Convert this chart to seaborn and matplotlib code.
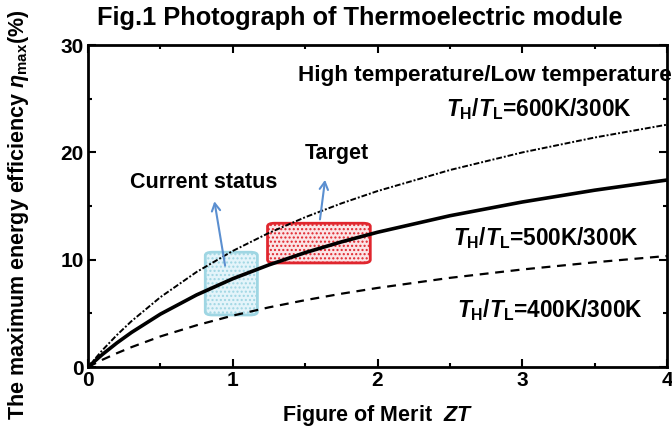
import matplotlib
matplotlib.use("Agg")
import matplotlib.pyplot as plt
import seaborn as sns
import pandas as pd
from matplotlib.patches import FancyBboxPatch

# ---- data ----
zt = [0, 0.1, 0.2, 0.3, 0.5, 0.75, 1.0, 1.25, 1.5, 1.75, 2.0, 2.5, 3.0, 3.5, 4.0]
eff_600 = [0, 1.58, 2.99, 4.27, 6.51, 8.86, 10.82, 12.5, 13.96, 15.25, 16.40, 18.36, 20.0, 21.39, 22.59]
eff_500 = [0, 1.18, 2.25, 3.22, 4.93, 6.72, 8.23, 9.52, 10.66, 11.66, 12.56, 14.10, 15.38, 16.48, 17.43]
eff_400 = [0, 0.68, 1.29, 1.85, 2.85, 3.89, 4.79, 5.56, 6.23, 6.83, 7.37, 8.31, 9.09, 9.76, 10.35]
series_names = ["600K/300K", "500K/300K", "400K/300K"]

x_ticks = [0, 1, 2, 3, 4]
y_ticks = [0, 10, 20, 30]

title = "Fig.1 Photograph of Thermoelectric module"
x_label = r"Figure of Merit  $ZT$"
y_label = r"The maximum energy efficiency $\eta_{\rm max}$(%)"

# ---- style ----
sns.set_theme(style="ticks")
plt.rcParams["font.family"] = ["Liberation Sans", "DejaVu Sans"]
plt.rcParams["font.weight"] = "bold"
plt.rcParams["text.color"] = "black"
plt.rcParams["axes.labelcolor"] = "black"
plt.rcParams["axes.labelweight"] = "bold"
plt.rcParams["mathtext.fontset"] = "custom"
plt.rcParams["mathtext.rm"] = "Liberation Sans:bold"
plt.rcParams["mathtext.it"] = "Liberation Sans:italic:bold"
plt.rcParams["mathtext.bf"] = "Liberation Sans:bold"
plt.rcParams["mathtext.default"] = "it"

fig = plt.figure(figsize=(6.72, 4.30), dpi=100)
ax = fig.add_axes([0.131, 0.1465, 0.8616, 0.7485])

df = pd.DataFrame({
    "ZT": zt * 3,
    "eff": eff_600 + eff_500 + eff_400,
    "case": [series_names[0]] * len(zt) + [series_names[1]] * len(zt) + [series_names[2]] * len(zt),
})

styles = {
    "600K/300K": dict(lw=1.4, ls=(0, (3, 1, 1, 1))),
    "500K/300K": dict(lw=2.6, ls="-"),
    "400K/300K": dict(lw=1.6, ls=(0, (4, 3))),
}
for name in series_names:
    sub = df[df["case"] == name]
    sns.lineplot(data=sub, x="ZT", y="eff", ax=ax, color="black",
                 linewidth=styles[name]["lw"], linestyle=styles[name]["ls"],
                 legend=False, zorder=3)

ax.set_xlim(0, 4)
ax.set_ylim(0, 30)
ax.set_xticks(x_ticks)
ax.set_yticks(y_ticks)
ax.set_xticks([0.5, 1.5, 2.5, 3.5], minor=True)
ax.set_yticks([5, 15, 25], minor=True)
ax.tick_params(which="both", direction="in", top=True, right=True, width=1.5,
               colors="black", labelcolor="black")
ax.tick_params(which="major", length=6, labelsize=15, pad=3)
ax.tick_params(which="minor", length=3)
for lab in ax.get_xticklabels() + ax.get_yticklabels():
    lab.set_fontweight("bold")
for s in ax.spines.values():
    s.set_linewidth(2)
    s.set_color("black")

ax.set_xlabel(x_label, fontsize=15.5, labelpad=9)
ax.set_ylabel("")
fig.text(0.028, 0.50, y_label, rotation=90, ha="center", va="center", fontsize=15.5,
         fontweight="bold")
fig.text(0.535, 0.958, title, ha="center", va="center", fontsize=18.3, fontweight="bold")

# boxes
cyan = FancyBboxPatch((0.81, 4.85), 0.36, 5.85, boxstyle="round,pad=0,rounding_size=0.05",
                      mutation_aspect=6, facecolor="#e4f4fa", edgecolor="#9fd6e3",
                      linewidth=2, hatch="....", zorder=2)
if hasattr(cyan, "set_hatch_color"):
    cyan.set_hatch_color("#9ccde0")
ax.add_patch(cyan)
red = FancyBboxPatch((1.24, 9.7), 0.71, 3.7, boxstyle="round,pad=0,rounding_size=0.05",
                     mutation_aspect=6, facecolor="#fbe4e6", edgecolor="#e0262e",
                     linewidth=2, hatch="....", zorder=2)
if hasattr(red, "set_hatch_color"):
    red.set_hatch_color("#e8a0a8")
ax.add_patch(red)

arrow_kw = dict(arrowstyle="->,head_length=0.45,head_width=0.25", color="#5b8fd0", lw=1.5)
ax.annotate("", xy=(0.87, 15.7), xytext=(0.95, 9.2), arrowprops=arrow_kw, zorder=4)
ax.annotate("", xy=(1.64, 17.7), xytext=(1.60, 13.5), arrowprops=arrow_kw, zorder=4)

ax.text(0.80, 17.2, "Current status", ha="center", va="center", fontsize=15.5, fontweight="bold")
ax.text(1.72, 19.9, "Target", ha="center", va="center", fontsize=15.5, fontweight="bold")
ax.text(4.03, 27.2, "High temperature/Low temperature", ha="right", va="center", fontsize=16.2,
        fontweight="bold", clip_on=False)
ax.text(2.47, 24.0, r"$T_{\rm H}/T_{\rm L}$=600K/300K", ha="left", va="center", fontsize=16.3,
        fontweight="bold")
ax.text(2.52, 12.0, r"$T_{\rm H}/T_{\rm L}$=500K/300K", ha="left", va="center", fontsize=16.3,
        fontweight="bold")
ax.text(2.55, 5.3, r"$T_{\rm H}/T_{\rm L}$=400K/300K", ha="left", va="center", fontsize=16.3,
        fontweight="bold")

fig.savefig("out.png", dpi=100)
